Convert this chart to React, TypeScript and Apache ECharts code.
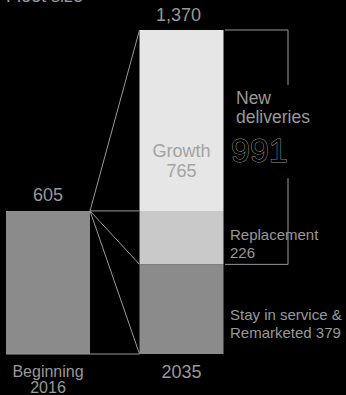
import React, { useEffect, useRef } from 'react';
import * as echarts from 'echarts';

const categories = ['Beginning\n2016', '2035'];
const baseFleet = [605, 379]; // beginning fleet / stay in service & remarketed
const replacement = [null, 226];
const growth = [null, 765];
const totals = [605, 1370];
const newDeliveries = 991;
const title = 'Fleet size';

const FONT = '"Liberation Sans", Arial, Helvetica, sans-serif';
const TXT = '#999999';
const LINE = '#9a9a9a';
const fmt = (v: number) => v.toLocaleString('en-US');

export default function App() {
  const ref = useRef<HTMLDivElement>(null);
  useEffect(() => {
    document.body.style.margin = '0';
    document.body.style.background = '#000';
    const chart = echarts.init(ref.current!, null, { renderer: 'svg' });
    const barW = 84;
    chart.setOption({
      animation: false,
      backgroundColor: '#000',
      grid: { left: 48, right: 164.5, top: 30, bottom: 41 },
      xAxis: {
        type: 'category',
        data: categories,
        boundaryGap: false,
        axisLine: { show: false },
        axisTick: { show: false },
        axisLabel: { show: false },
        splitLine: { show: false },
      },
      yAxis: { type: 'value', min: 0, max: totals[1], show: false, splitLine: { show: false } },
      series: [
        {
          type: 'bar', stack: 'fleet', barWidth: barW, clip: false,
          itemStyle: { color: '#8a8b8a' },
          data: baseFleet,
        },
        {
          type: 'bar', stack: 'fleet', barWidth: barW, clip: false,
          itemStyle: { color: '#c8c9c8' },
          data: replacement,
        },
        {
          type: 'bar', stack: 'fleet', barWidth: barW, clip: false,
          itemStyle: { color: '#e6e6e6' },
          data: growth,
        },
      ],
    });

    const px = (i: number, v: number) =>
      chart.convertToPixel({ xAxisIndex: 0, yAxisIndex: 0 }, [i, v]) as number[];
    const [x0] = px(0, 0);
    const [x1] = px(1, 0);
    const yZero = px(0, 0)[1];
    const yLeftTop = px(0, totals[0])[1];
    const yRightTop = px(1, totals[1])[1];
    const yRep = px(1, baseFleet[1] + (replacement[1] as number))[1];
    const yStay = px(1, baseFleet[1])[1];
    const lEdgeR = x0 + barW / 2;
    const lEdgeL = x0 - barW / 2;
    const rEdgeL = x1 - barW / 2;
    const rEdgeR = x1 + barW / 2;
    const bx = 288;

    const line = (pts: number[][]) => ({
      type: 'polyline',
      z: 10,
      shape: { points: pts },
      style: { stroke: LINE, lineWidth: 1, fill: 'none' },
      silent: true,
    });
    const text = (t: string, x: number, y: number, size: number, lh: number, align: string, extra: any = {}) => ({
      type: 'text',
      z: 11,
      x, y,
      style: {
        text: t, fill: TXT, fontSize: size, fontFamily: FONT, lineHeight: lh,
        align, verticalAlign: 'middle', ...extra,
      },
      silent: true,
    });

    chart.setOption({
      graphic: [
        line([[lEdgeL, yZero], [rEdgeL, yZero]]),
        line([[lEdgeR, yLeftTop], [rEdgeL, yRightTop]]),
        line([[lEdgeR, yLeftTop], [rEdgeL, yRep]]),
        line([[lEdgeR, yLeftTop], [rEdgeL, yStay]]),
        line([[lEdgeR, yLeftTop], [rEdgeL, yZero]]),
        line([[rEdgeR + 1.5, yRightTop], [bx, yRightTop], [bx, 85]]),
        line([[bx, 178], [bx, yStay], [rEdgeR + 1.5, yStay]]),
        text(title, 6, -3.7, 18, 18, 'left'),
        text(fmt(totals[1]), x1 - 3, yRightTop - 15, 18, 18, 'center'),
        text(fmt(totals[0]), x0, yLeftTop - 16, 18, 18, 'center'),
        text('Growth\n' + fmt(growth[1] as number), x1, yRep - 50, 18, 20, 'center', { fill: '#a3a3a3' }),
        text('New\ndeliveries', 236, 107.5, 17.5, 19, 'left'),
        text(String(newDeliveries), 231, 150.2, 34, 30, 'left', { fill: '#000', stroke: TXT, lineWidth: 1 }),
        text('Replacement\n' + replacement[1], 230, yRep + 32.5, 15, 18, 'left'),
        text('Stay in service &\nRemarketed ' + baseFleet[1], 230, yStay + 59.5, 15, 18, 'left'),
        text(categories[0], x0, yZero + 25.5, 16, 16, 'center'),
        text(categories[1], x1, yZero + 17.7, 18, 18, 'center'),
      ],
    });
    return () => chart.dispose();
  }, []);
  return <div ref={ref} style={{ width: 346, height: 395, background: '#000' }} />;
}
